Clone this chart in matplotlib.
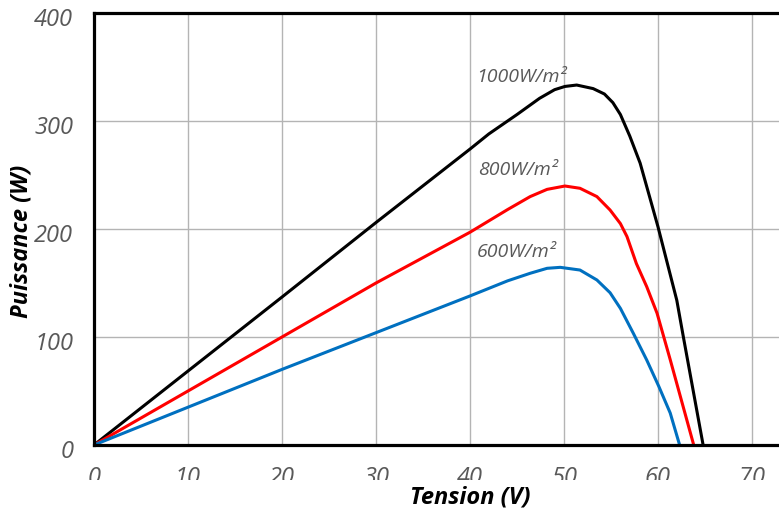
import matplotlib
matplotlib.use("Agg")
import matplotlib.pyplot as plt
from matplotlib.transforms import Bbox, ScaledTranslation

# ------------------------------------------------------------------
# Data (tension V, puissance W)
# ------------------------------------------------------------------
v_1000 = [0, 10, 20, 30, 40, 42, 45, 47.4, 49, 50.1, 51.35, 53.1, 54.3, 55.2, 56,
          57, 58.1, 59.1, 60, 61, 62, 62.7, 64.8]
p_1000 = [0, 68.5, 137, 206, 274, 288, 306, 321, 329, 332, 333.3, 330, 325, 317, 306,
          286, 261, 230, 202, 168, 134, 100, 0]

v_800 = [0, 10, 20, 30, 40, 44, 46.4, 48.2, 50.1, 51.7, 53.5, 54.9, 56, 56.7,
         57.7, 58.8, 59.9, 61.3, 63.8]
p_800 = [0, 50, 100, 150, 197, 218, 230, 236.7, 239.8, 237.7, 230, 217.6, 205, 193,
         168, 146.6, 122, 79, 0]

v_600 = [0, 10, 20, 30, 40, 44, 46.4, 48.2, 49.6, 51.7, 53.5, 54.9, 56, 57.4,
         58.8, 60.1, 61.3, 62.3]
p_600 = [0, 35, 70, 104, 138, 152, 159, 163.6, 164.5, 162, 152.8, 141, 126.5, 103,
         78.7, 54, 29.6, 0]

labels = ["1000W/m²", "800W/m²", "600W/m²"]
label_pos = [(40.7, 336), (40.9, 250), (40.7, 174)]

xticks = [0, 10, 20, 30, 40, 50, 60, 70]
yticks = [0, 100, 200, 300, 400]

gray = "#595959"
font = "Open Sans"

fig = plt.figure(figsize=(7.79, 5.11), dpi=100)
ax = fig.add_axes([94 / 779, 66 / 511, 752 / 779, 432 / 511])

ax.plot(v_1000, p_1000, color="black", lw=2.2, solid_joinstyle="round")
ax.plot(v_800, p_800, color="#FF0000", lw=2.2, solid_joinstyle="round")
ax.plot(v_600, p_600, color="#0070C0", lw=2.2, solid_joinstyle="round")

for txt, (x, y) in zip(labels, label_pos):
    ax.text(x, y, txt, fontsize=14, style="italic", color=gray,
            family=font, ha="left", va="baseline")

ax.set_xlim(0, 80)
ax.set_ylim(0, 400)
ax.set_xticks(xticks)
ax.set_yticks(yticks)
ax.grid(True, color="#B4B4B4", lw=1.0)
ax.set_axisbelow(True)
ax.tick_params(length=0)
ax.tick_params(axis="x", pad=15)
ax.tick_params(axis="y", pad=15)

for sp in ["left", "bottom", "top"]:
    ax.spines[sp].set_linewidth(2.3)
    ax.spines[sp].set_color("black")
ax.spines["right"].set_visible(False)

for lab in ax.get_xticklabels() + ax.get_yticklabels():
    lab.set_fontsize(17)
    lab.set_style("italic")
    lab.set_color(gray)
    lab.set_family(font)

# the tick labels in the original are cut off at their lower edge
for tick in ax.xaxis.get_major_ticks():
    tick.label1.set_clip_box(Bbox([[0, 31], [779, 60]]))
    tick.label1.set_clip_on(True)
shift = ScaledTranslation(0, -4 / 100, fig.dpi_scale_trans)
for val, tick in zip(yticks, ax.yaxis.get_major_ticks()):
    ydisp = 66 + 432 * val / 400
    tick.label1.set_transform(tick.label1.get_transform() + shift)
    tick.label1.set_clip_box(Bbox([[0, ydisp - 13], [94, ydisp + 30]]))
    tick.label1.set_clip_on(True)

ax.set_xlabel("Tension (V)", fontsize=17, fontweight="bold", style="italic",
              family=font)
ax.set_ylabel("Puissance (W)", fontsize=17, fontweight="bold", style="italic",
              family=font)
ax.xaxis.set_label_coords(0.5, -0.093)
ax.yaxis.set_label_coords(-0.080, 0.472)

fig.savefig("out.png", dpi=100)
